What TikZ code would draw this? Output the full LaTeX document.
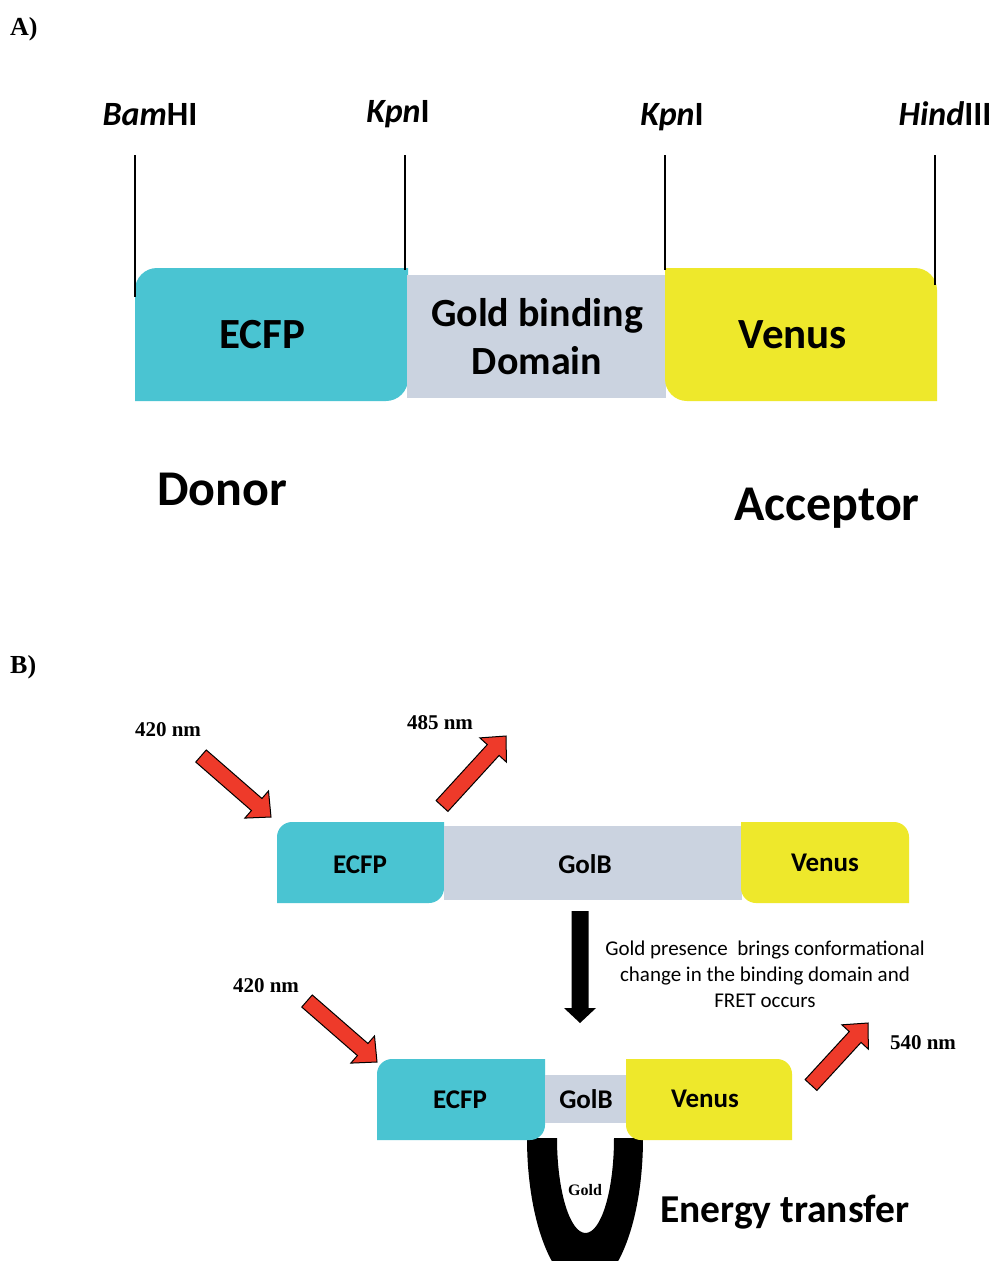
\documentclass[tikz,border=0pt]{standalone}
\usepackage{fontspec}
\setmainfont{Carlito}
\newfontfamily\timesfont{Liberation Serif}
\usetikzlibrary{calc}
\definecolor{ecfpcyan}{HTML}{4AC4D2}
\definecolor{golbgray}{HTML}{CBD3E0}
\definecolor{venusyellow}{HTML}{EEE82B}
\definecolor{arrowred}{HTML}{EE3A2A}
% boxes: style, x1, y1, x2, y2, radius
\newcommand\boxtlbr[6]{\fill[#1] (#2,#5) -- (#2,#3+#6) arc[start angle=180,end angle=270,radius=#6] -- (#4,#3) -- (#4,#5-#6) arc[start angle=0,end angle=90,radius=#6] -- cycle;}
\newcommand\boxtrbl[6]{\fill[#1] (#2,#3) -- (#4-#6,#3) arc[start angle=270,end angle=360,radius=#6] -- (#4,#5) -- (#2+#6,#5) arc[start angle=90,end angle=180,radius=#6] -- cycle;}
% block arrow: style, tail, tip, half shaft, half head, head length
\newcommand\blockarrow[6]{\coordinate (neck) at ($(#3)!#6!(#2)$);
  \path[#1] ($(#2)!#4!90:(#3)$) -- ($(neck)!#4!90:(#3)$) -- ($(neck)!#5!90:(#3)$) -- (#3)
    -- ($(neck)!#5!-90:(#3)$) -- ($(neck)!#4!-90:(#3)$) -- ($(#2)!#4!-90:(#3)$) -- cycle;}
\begin{document}
\begin{tikzpicture}[x=1pt,y=-1pt,
    ecfp/.style={fill=ecfpcyan}, golb/.style={fill=golbgray}, venus/.style={fill=venusyellow},
    big/.style={inner sep=0,anchor=base,font=\bfseries\fontsize{43}{48}\selectfont},
    huge/.style={inner sep=0,anchor=base,font=\bfseries\fontsize{50}{56}\selectfont},
    site/.style={inner sep=0,anchor=base,font=\bfseries\fontsize{34}{40}\selectfont},
    mid/.style={inner sep=0,anchor=base,font=\bfseries\fontsize{27}{32}\selectfont},
    panel/.style={inner sep=0,anchor=base west,font=\timesfont\bfseries\fontsize{26}{30}\selectfont},
    wave/.style={inner sep=0,anchor=base,font=\timesfont\bfseries\fontsize{21}{25}\selectfont},
    note/.style={inner sep=0,align=center,font=\fontsize{21}{26}\selectfont},
    siteline/.style={line width=1.5pt},
    beam/.style={fill=arrowred,draw=black,line width=1pt,line join=miter},
    goldshift/.style={fill=black}]
    \clip (0,0) rectangle (995,1261);
    \fill[white] (0,0) rectangle (995,1261);
    \node[panel] (pa) at (10,35) {A)};
    \node[site] (bam) at (150,125) {\textit{Bam}HI};  \node[site] (kpn1) at (398,122) {\textit{Kpn}I};
    \node[site] (kpn2) at (672,125) {\textit{Kpn}I};  \node[site] (hind) at (945,125) {\textit{Hind}III};
    \coordinate (bam1) at (135,155);  \coordinate (bam2) at (135,297);
    \coordinate (kpn1a) at (405,155); \coordinate (kpn1b) at (405,270);
    \coordinate (kpn2a) at (665,155); \coordinate (kpn2b) at (665,270);
    \coordinate (hind1) at (935,155); \coordinate (hind2) at (935,285);
    \boxtlbr{ecfp}{135}{268}{408}{401}{22}
    \fill[golb] (407,275) rectangle (666,398);
    \boxtrbl{venus}{665}{268}{937}{401}{22}
    \draw[siteline] (bam1) -- (bam2);  \draw[siteline] (kpn1a) -- (kpn1b);
    \draw[siteline] (kpn2a) -- (kpn2b); \draw[siteline] (hind1) -- (hind2);
    \node[big] (ecfpA) at (262,348) {ECFP};  \node[big] (venA) at (793,348) {Venus};
    \node[big,anchor=center,align=center,font=\bfseries\fontsize{40}{48}\selectfont] (golbA) at (537,337) {Gold binding\\Domain};
    \node[huge] (donor) at (222,505) {Donor};  \node[huge] (acceptor) at (827,520) {Acceptor};
    \node[panel] (pb) at (10,673) {B)};
    \node[wave] (w1) at (168,736) {420 nm};  \node[wave] (w2) at (440,729) {485 nm};
    \node[wave] (w3) at (266,992) {420 nm};  \node[wave] (w4) at (923,1049) {540 nm};
    \boxtlbr{ecfp}{277}{822}{444}{903}{15}
    \fill[golb] (444,826) rectangle (742,900);
    \boxtrbl{venus}{741}{822}{909}{903}{15}
    \node[mid] (ecfpB) at (360,873) {ECFP};  \node[mid] (golbB) at (585,873) {GolB};  \node[mid] (venB) at (825,871) {Venus};
    \coordinate (shift1) at (580,911);  \coordinate (shift2) at (580,1023);
    \blockarrow{goldshift}{shift1}{shift2}{8.5pt}{16pt}{15pt}
    \node[note] (fret) at (765,974) {Gold presence~ brings conformational\\change in the binding domain and\\FRET occurs};
    \fill (527,1138) arc[start angle=180,end angle=0,x radius=58,y radius=150] -- (614,1138) arc[start angle=0,end angle=180,x radius=28.5,y radius=95] -- cycle;
    \boxtlbr{ecfp}{377}{1059}{545}{1140}{15}
    \fill[golb] (545,1075) rectangle (627,1123);
    \boxtrbl{venus}{626}{1059}{792}{1140}{15}
    \node[mid] (ecfpC) at (460,1108) {ECFP};  \node[mid] (golbC) at (586,1108) {GolB};  \node[mid] (venC) at (705,1107) {Venus};
    \node[wave,font=\timesfont\bfseries\fontsize{16}{19}\selectfont] (gold) at (585,1195) {Gold};
    \node[big,anchor=base west,font=\bfseries\fontsize{39.5}{44}\selectfont] (energy) at (660,1222) {Energy transfer};
    \coordinate (in1a) at (201,756);  \coordinate (in1b) at (271,817);
    \coordinate (out1a) at (442,806); \coordinate (out1b) at (506,736);
    \coordinate (in2a) at (307,1001); \coordinate (in2b) at (377,1062);
    \coordinate (out2a) at (811,1085); \coordinate (out2b) at (868,1023);
    \blockarrow{beam}{in1a}{in1b}{8pt}{18pt}{19pt}
    \blockarrow{beam}{out1a}{out1b}{8pt}{18pt}{19pt}
    \blockarrow{beam}{in2a}{in2b}{8pt}{18pt}{19pt}
    \blockarrow{beam}{out2a}{out2b}{8pt}{18pt}{19pt}
\end{tikzpicture}
\end{document}
